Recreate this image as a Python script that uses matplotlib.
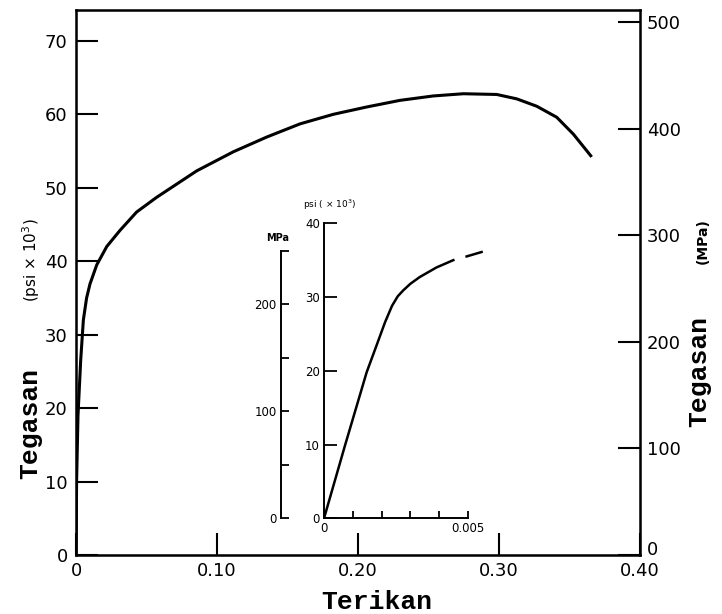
#!/usr/bin/env python3

import numpy as np
import matplotlib
matplotlib.use("Agg")
import matplotlib.pyplot as plt
import matplotlib.transforms as mtransforms
from matplotlib.ticker import FixedLocator, FixedFormatter

# main curve: strain vs stress (ksi)
strain = [0, 0.0004, 0.0014, 0.0033, 0.0052, 0.0075, 0.0099, 0.0147, 0.0218,
          0.0312, 0.0430, 0.0572, 0.0714, 0.0856, 0.1116, 0.1352, 0.1589,
          0.1825, 0.2062, 0.2298, 0.2534, 0.2747, 0.2984, 0.3126, 0.3267,
          0.3409, 0.3527, 0.3657]
stress = [0, 10, 19, 26.5, 32.0, 35.0, 36.9, 39.5, 42.0,
          44.2, 46.7, 48.7, 50.5, 52.3, 54.9, 56.9, 58.7,
          60.0, 61.0, 61.9, 62.5, 62.8, 62.7, 62.1, 61.1,
          59.6, 57.3, 54.2]

# inset: elastic region (nan = gap in the printed line)
strain_in = [0, 0.00073, 0.00148, 0.00182, 0.00212, 0.00236, 0.00256, 0.00275,
             0.00300, 0.00332, 0.00390, 0.00449, np.nan, 0.00495, 0.00547]
stress_in = [0, 9.9, 19.8, 23.4, 26.6, 28.8, 30.1, 30.9,
             31.8, 32.7, 34.0, 35.0, np.nan, 35.5, 36.1]

x_ticks = [0, 0.10, 0.20, 0.30, 0.40]
x_labels = ["0", "0.10", "0.20", "0.30", "0.40"]
psi_ticks = [0, 10, 20, 30, 40, 50, 60, 70]
mpa_ticks = [0, 100, 200, 300, 400, 500]
in_x_ticks = [0, 0.001, 0.002, 0.003, 0.004, 0.005]
in_x_labels = ["0", "", "", "", "", "0.005"]
in_psi_ticks = [0, 10, 20, 30, 40]
in_mpa_ticks = [0, 50, 100, 150, 200, 250]
in_mpa_labels = ["0", "", "100", "", "200", ""]

KSI_TO_MPA = 6.895
YTOP = 74.2

plt.rcParams["font.family"] = "DejaVu Sans"
mono = {"family": "Liberation Mono", "weight": "bold", "size": 19}

fig = plt.figure(figsize=(7.22, 6.14), dpi=100)

ax = fig.add_axes([0.1053, 0.0961, 0.7812, 0.8876])
ax.plot(strain, stress, color="black", lw=2.2, solid_capstyle="butt")
ax.set_xlim(0, 0.40)
ax.set_ylim(0, YTOP)
ax.set_xticks(x_ticks)
ax.set_xticklabels(x_labels)
ax.set_yticks(psi_ticks)
ax.tick_params(direction="in", length=16, width=1.5, labelsize=13, pad=6)
ax.tick_params(axis="x", pad=5)
for s in ax.spines.values():
    s.set_linewidth(1.8)

ax2 = ax.twinx()
ax2.set_ylim(0, YTOP * KSI_TO_MPA)
ax2.set_yticks(mpa_ticks)
ax2.tick_params(direction="in", length=16, width=1.5, labelsize=13, pad=5)
# lift the right-hand zero a little so it clears "0.40"
zero_lbl = ax2.get_yticklabels()[0]
zero_lbl.set_transform(zero_lbl.get_transform() +
                       mtransforms.ScaledTranslation(0, 5 / 72, fig.dpi_scale_trans))

# axis titles
fig.text(0.042, 0.31, "Tegasan", rotation=90, ha="center", va="center", fontdict=mono)
fig.text(0.043, 0.577, r"(psi $\times$ 10$^3$)", rotation=90, ha="center", va="center",
         fontsize=11)
fig.text(0.969, 0.395, "Tegasan", rotation=90, ha="center", va="center", fontdict=mono)
fig.text(0.973, 0.607, "(MPa)", rotation=90, ha="center", va="center",
         fontsize=10, fontweight="bold")
fig.text(0.522, 0.019, "Terikan", ha="center", va="center", fontdict=mono)

# inset
axi = fig.add_axes([0.4488, 0.1559, 0.2234, 0.4805])
axi.set_facecolor("none")
axi.plot(strain_in, stress_in, color="black", lw=1.8)
axi.set_xlim(0, 0.0056)
axi.set_ylim(0, 40)
axi.spines["top"].set_visible(False)
axi.spines["right"].set_visible(False)
axi.spines["bottom"].set_bounds(0, 0.005)
for s in ("left", "bottom"):
    axi.spines[s].set_linewidth(1.4)
axi.xaxis.set_major_locator(FixedLocator(in_x_ticks))
axi.xaxis.set_major_formatter(FixedFormatter(in_x_labels))
axi.set_yticks(in_psi_ticks)
axi.tick_params(axis="y", direction="in", length=9, width=1.3, labelsize=8.5, pad=3)
axi.tick_params(axis="x", direction="in", length=5, width=1.3, labelsize=8.5, pad=3)
axi.text(0.0002, 42.5, r"psi ( $\times$ 10$^3$)", fontsize=6.5, ha="center", va="center")

axm = axi.twinx()
axm.set_facecolor("none")
axm.set_ylim(0, 40 * KSI_TO_MPA)
axm.yaxis.set_ticks_position("left")
axm.yaxis.set_label_position("left")
for s in ("top", "right", "bottom"):
    axm.spines[s].set_visible(False)
axm.spines["left"].set_visible(True)
axm.spines["left"].set_position(("outward", 31))
axm.spines["left"].set_bounds(0, 250)
axm.spines["left"].set_linewidth(1.4)
axm.yaxis.set_major_locator(FixedLocator(in_mpa_ticks))
axm.yaxis.set_major_formatter(FixedFormatter(in_mpa_labels))
axm.tick_params(axis="y", direction="in", length=6, width=1.3, labelsize=8.5, pad=3)
axm.text(-0.0016, 262, "MPa", fontsize=7, fontweight="bold", ha="center", va="center")

fig.savefig("out.png", dpi=100)
